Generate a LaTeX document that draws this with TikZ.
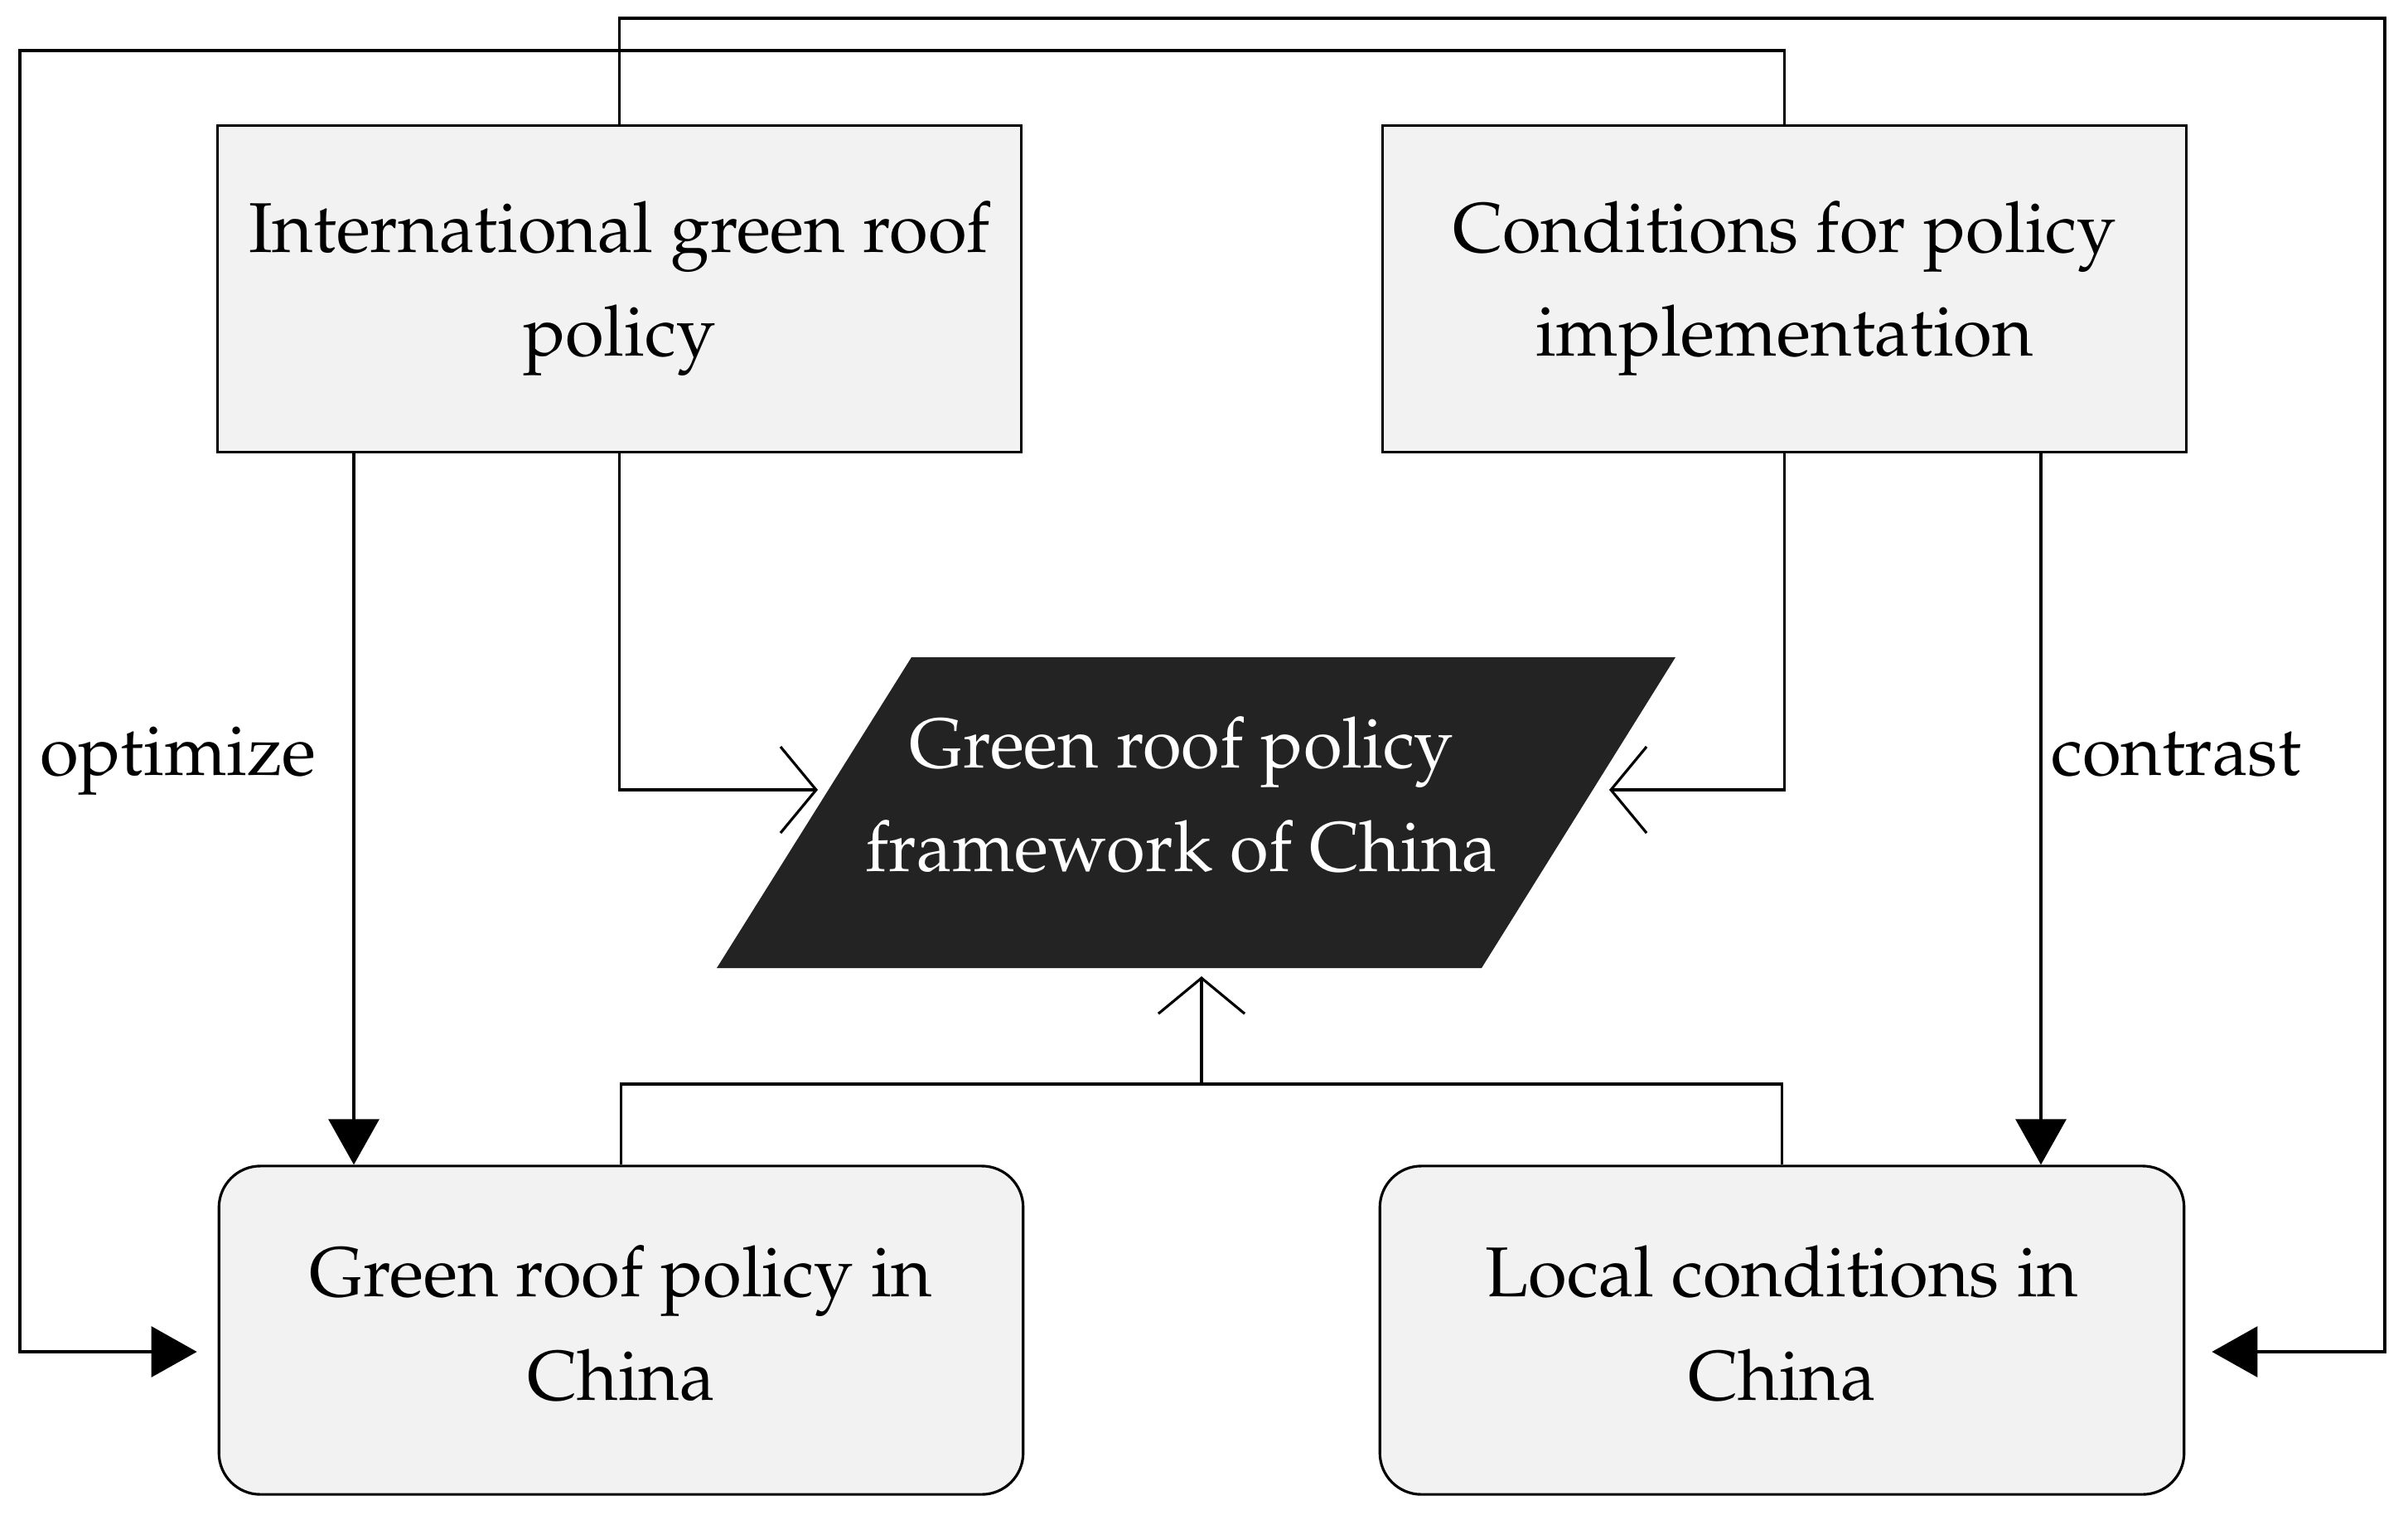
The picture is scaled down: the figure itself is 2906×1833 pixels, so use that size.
\documentclass[tikz,border=0pt]{standalone}
\usepackage[T1]{fontenc}
\usepackage{mathpazo}
\usetikzlibrary{arrows.meta}
\definecolor{boxgray}{HTML}{F2F2F2}
\definecolor{framedark}{HTML}{232323}

\begin{document}
\begin{tikzpicture}[x=0.01cm,y=-0.01cm,line width=0.9pt,
		txt/.style={font=\fontsize{24.2}{35.5}\selectfont},
		box/.style={txt,draw,fill=boxgray,align=center,minimum width=9.7cm,
			minimum height=3.93cm,inner sep=0pt},
		roundbox/.style={box,rounded corners=0.5cm,minimum height=3.96cm,text depth=0.18cm},
		frametext/.style={txt,text=white,align=center},
		solidtip/.style={-{Triangle[length=0.55cm,width=0.61cm]}},
		opentip/.style={-{Straight Barb[length=0.43cm,width=1.04cm]}},
		lbl/.style={txt,anchor=base}]
	\useasboundingbox (0,0) rectangle (2906,1833);
	% boxes
	\node[box] (intl) at (747.5,348.5) {International green roof\\policy};
	\node[box] (cond) at (2153.5,348.5) {Conditions for policy\\implementation};
	\node[roundbox] (gcn) at (749.5,1605) {Green roof policy in\\China};
	\node[roundbox] (lcn) at (2150.5,1605) {Local conditions in\\China};
	% parallelogram
	\coordinate (fbl) at (865,1168);
	\coordinate (ftl) at (1100,793);
	\coordinate (ftr) at (2022,793);
	\coordinate (fbr) at (1788,1168);
	\fill[framedark] (fbl) -- (ftl) -- (ftr) -- (fbr) -- cycle;
	\node[frametext] (frametxt) at (1426,959) {Green roof policy\\framework of China};
	% labels
	\node[lbl] (opt) at (215,935) {optimize};
	\node[lbl] (con) at (2626,935) {contrast};
	% helper points
	\coordinate (optx) at (427,0);
	\coordinate (conx) at (2463,0);
	\coordinate (lt) at (24,61);
	\coordinate (rt) at (2878,22);
	\coordinate (fl) at (987,953);
	\coordinate (fr) at (1942,953);
	\coordinate (midjoin) at (1450,1308);
	% connectors
	\draw[solidtip] (intl.south -| optx) -- (gcn.north -| optx);
	\draw[solidtip] (cond.south -| conx) -- (lcn.north -| conx);
	\draw[opentip] (intl.south) |- (fl);
	\draw[opentip] (cond.south) |- (fr);
	\draw (gcn.north) |- (midjoin) -| (lcn.north);
	\draw[opentip,shorten >=0.1cm] (midjoin) -- (midjoin |- fbl);
	\draw[solidtip] (cond.north) |- (lt) |- ([xshift=-0.25cm,yshift=-0.26cm]gcn.west);
	\draw[solidtip] (intl.north) |- (rt) |- ([xshift=0.32cm,yshift=-0.26cm]lcn.east);
\end{tikzpicture}
\end{document}
